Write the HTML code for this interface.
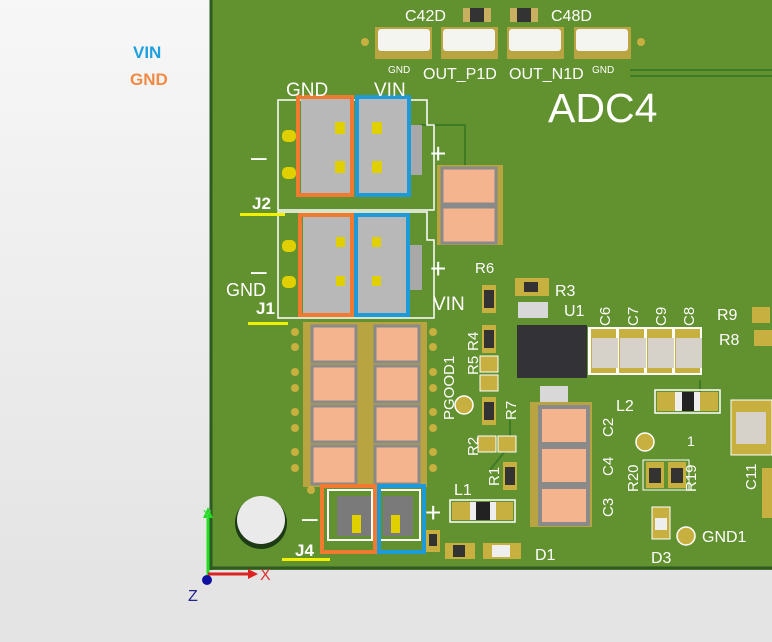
<!DOCTYPE html>
<html><head><style>
html,body{margin:0;padding:0}
body{width:772px;height:642px;overflow:hidden;background:linear-gradient(#f7f7f7,#e2e2e2);font-family:"Liberation Sans",sans-serif}
svg{position:absolute;left:0;top:0}
</style></head><body>
<svg width="772" height="642" viewBox="0 0 772 642" xmlns="http://www.w3.org/2000/svg" font-family="Liberation Sans, sans-serif">
<rect x="0" y="570" width="772" height="72" fill="#e4e4e4"/>
<rect x="210" y="0" width="562" height="570" fill="#62912f"/>
<line x1="211" y1="0" x2="211" y2="570" stroke="#2c5a22" stroke-width="3"/>
<line x1="210" y1="568" x2="772" y2="568" stroke="#2c5a22" stroke-width="3"/>
<text x="133" y="58" font-size="17" font-weight="bold" fill="#1ea0e0">VIN</text>
<text x="130" y="85" font-size="17" font-weight="bold" fill="#f08a44">GND</text>
<!-- traces -->
<g stroke="#3f7a25" stroke-width="2" fill="none">
<path d="M630 70H772M630 76H772"/>
<path d="M420 125H465V180"/>
<path d="M490 470l20 -25V420"/>
<path d="M560 480V440M700 380V405M540 400H560"/>
</g>
<!-- top connectors -->
<g>
<rect x="375" y="27" width="57" height="32" fill="#b8a440"/><rect x="378" y="29" width="52" height="22" rx="3" fill="#f4f4f0"/>
<rect x="441" y="27" width="57" height="32" fill="#b8a440"/><rect x="443" y="29" width="52" height="22" rx="3" fill="#f4f4f0"/>
<rect x="507" y="27" width="57" height="32" fill="#b8a440"/><rect x="509" y="29" width="52" height="22" rx="3" fill="#f4f4f0"/>
<rect x="574" y="27" width="57" height="32" fill="#b8a440"/><rect x="576" y="29" width="52" height="22" rx="3" fill="#f4f4f0"/>
<rect x="463" y="8" width="28" height="14" fill="#c8b060"/><rect x="470" y="8" width="14" height="14" fill="#333"/>
<rect x="510" y="8" width="28" height="14" fill="#c8b060"/><rect x="517" y="8" width="14" height="14" fill="#333"/>
<circle cx="365" cy="42" r="4" fill="#c8b040"/><circle cx="641" cy="42" r="4" fill="#c8b040"/>
</g>
<g fill="#fff">
<text x="405" y="21" font-size="16">C42D</text>
<text x="551" y="21" font-size="16">C48D</text>
<text x="388" y="73" font-size="10">GND</text>
<text x="423" y="79" font-size="16">OUT_P1D</text>
<text x="509" y="79" font-size="16">OUT_N1D</text>
<text x="592" y="73" font-size="10">GND</text>
<text x="548" y="122" font-size="41" font-weight="normal">ADC4</text>
</g>
<!-- J2 / J1 outlines -->
<g fill="none" stroke="#fff" stroke-width="1.5">
<path d="M278 100H427V125H434V210H278Z"/>
<path d="M278 212H427V240H434V318H278Z"/>
</g>
<g>
<rect x="282" y="130" width="14" height="12" rx="5" fill="#e0d000"/><rect x="282" y="167" width="14" height="12" rx="5" fill="#e0d000"/>
<rect x="282" y="240" width="14" height="12" rx="5" fill="#e0d000"/><rect x="282" y="276" width="14" height="12" rx="5" fill="#e0d000"/>
<rect x="301" y="97" width="50" height="96" fill="#b8b8b8"/><rect x="358" y="97" width="50" height="96" fill="#b8b8b8"/>
<rect x="303" y="215" width="48" height="98" fill="#b8b8b8"/><rect x="357" y="215" width="50" height="98" fill="#b8b8b8"/>
<rect x="410" y="125" width="12" height="50" fill="#a8a8a8"/><rect x="410" y="245" width="12" height="45" fill="#a8a8a8"/>
<g fill="#e0d000"><rect x="335" y="122" width="10" height="12"/><rect x="372" y="122" width="10" height="12"/><rect x="335" y="161" width="10" height="12"/><rect x="372" y="161" width="10" height="12"/>
<rect x="336" y="237" width="9" height="10"/><rect x="372" y="237" width="9" height="10"/><rect x="336" y="276" width="9" height="10"/><rect x="372" y="276" width="9" height="10"/></g>
<g fill="none" stroke-width="4"><rect x="298" y="97" width="54" height="98" stroke="#f07a30"/><rect x="357" y="97" width="52" height="98" stroke="#1e9ad8"/>
<rect x="300" y="215" width="52" height="100" stroke="#f07a30"/><rect x="356" y="215" width="52" height="100" stroke="#1e9ad8"/></g>
</g>
<g fill="#fff">
<text x="286" y="96" font-size="19">GND</text><text x="374" y="96" font-size="19">VIN</text>
<text x="251" y="166" font-size="28">–</text><text x="430" y="163" font-size="28">+</text>
<text x="251" y="280" font-size="28">–</text><text x="430" y="278" font-size="28">+</text>
<text x="252" y="209" font-size="17" font-weight="bold">J2</text>
<text x="226" y="296" font-size="18">GND</text>
<text x="256" y="314" font-size="17" font-weight="bold">J1</text>
<text x="433" y="310" font-size="19">VIN</text>
</g>
<rect x="240" y="213" width="45" height="3" fill="#f0f000"/>
<rect x="248" y="322" width="40" height="3" fill="#f0f000"/>
<rect x="282" y="558" width="48" height="3" fill="#f0f000"/>
<!-- caps near J2 -->
<rect x="437" y="165" width="66" height="80" fill="#b8a440"/>
<rect x="442" y="168" width="54" height="36" fill="#f4b48e" stroke="#8a8a8a" stroke-width="3"/>
<rect x="442" y="207" width="54" height="36" fill="#f4b48e" stroke="#8a8a8a" stroke-width="3"/>
<!-- capacitor array -->
<rect x="303" y="322" width="124" height="165" fill="#b8a440"/>
<g fill="#f4b48e" stroke="#8a8a8a" stroke-width="3">
<rect x="312" y="326" width="44" height="36"/><rect x="375" y="326" width="44" height="36"/>
<rect x="312" y="366" width="44" height="36"/><rect x="375" y="366" width="44" height="36"/>
<rect x="312" y="406" width="44" height="36"/><rect x="375" y="406" width="44" height="36"/>
<rect x="312" y="446" width="44" height="38"/><rect x="375" y="446" width="44" height="38"/>
</g>
<g fill="#c8b040">
<circle cx="295" cy="332" r="4"/><circle cx="295" cy="347" r="4"/><circle cx="295" cy="372" r="4"/><circle cx="295" cy="388" r="4"/><circle cx="295" cy="412" r="4"/><circle cx="295" cy="428" r="4"/><circle cx="295" cy="452" r="4"/><circle cx="295" cy="468" r="4"/>
<circle cx="433" cy="332" r="4"/><circle cx="433" cy="347" r="4"/><circle cx="433" cy="372" r="4"/><circle cx="433" cy="388" r="4"/><circle cx="433" cy="412" r="4"/><circle cx="433" cy="428" r="4"/><circle cx="433" cy="452" r="4"/><circle cx="433" cy="468" r="4"/>
<circle cx="311" cy="490" r="4"/>
</g>
<!-- hole -->
<circle cx="261" cy="523" r="26" fill="#1c3a14"/>
<circle cx="261" cy="520" r="24" fill="#eaeaea"/>
<!-- J4 -->
<rect x="328" y="490" width="44" height="50" fill="none" stroke="#fff" stroke-width="2"/>
<rect x="380" y="490" width="40" height="50" fill="none" stroke="#fff" stroke-width="2"/>
<rect x="337" y="496" width="34" height="40" fill="#7a7a7a"/><rect x="383" y="496" width="30" height="40" fill="#7a7a7a"/>
<rect x="352" y="515" width="9" height="18" fill="#e0d000"/><rect x="391" y="515" width="9" height="18" fill="#e0d000"/>
<rect x="322" y="486" width="53" height="66" fill="none" stroke="#f07a30" stroke-width="4"/>
<rect x="379" y="486" width="45" height="66" fill="none" stroke="#1e9ad8" stroke-width="4"/>
<g fill="#fff"><text x="302" y="527" font-size="28">–</text><text x="425" y="522" font-size="28">+</text>
<text x="295" y="556" font-size="17" font-weight="bold">J4</text>
<text x="454" y="495" font-size="16">L1</text><text x="535" y="560" font-size="16">D1</text>
<text x="475" y="273" font-size="15">R6</text><text x="555" y="296" font-size="16">R3</text>
<text x="564" y="316" font-size="16">U1</text>
<text x="717" y="320" font-size="16">R9</text><text x="719" y="345" font-size="16">R8</text>
<text x="616" y="411" font-size="16">L2</text><text x="687" y="446" font-size="14">1</text>
<text x="702" y="542" font-size="16">GND1</text><text x="651" y="563" font-size="16">D3</text>
</g>
<!-- L1 -->
<rect x="450" y="500" width="65" height="22" fill="none" stroke="#fff" stroke-width="1.5"/>
<rect x="452" y="502" width="61" height="18" fill="#c8b040"/><rect x="470" y="502" width="26" height="18" fill="#eee"/><rect x="476" y="502" width="14" height="18" fill="#222"/>
<!-- small parts bottom -->
<rect x="426" y="530" width="14" height="22" fill="#c8b040"/><rect x="429" y="534" width="8" height="12" fill="#333"/>
<rect x="445" y="543" width="30" height="16" fill="#c8b040"/><rect x="453" y="545" width="12" height="12" fill="#333"/>
<rect x="483" y="543" width="38" height="16" fill="#c8b040"/><rect x="492" y="545" width="18" height="12" fill="#eee"/>
<!-- resistor column -->
<g>
<rect x="482" y="285" width="14" height="28" fill="#c8b040"/><rect x="484" y="290" width="10" height="18" fill="#333"/>
<rect x="482" y="325" width="14" height="28" fill="#c8b040"/><rect x="484" y="330" width="10" height="18" fill="#333"/>
<rect x="480" y="356" width="18" height="16" fill="#c8b040" stroke="#fff"/><rect x="480" y="375" width="18" height="16" fill="#c8b040" stroke="#fff"/>
<rect x="482" y="397" width="14" height="28" fill="#c8b040"/><rect x="484" y="402" width="10" height="18" fill="#333"/>
<rect x="478" y="436" width="18" height="16" fill="#c8b040" stroke="#fff"/><rect x="498" y="436" width="18" height="16" fill="#c8b040" stroke="#fff"/>
<rect x="503" y="462" width="14" height="28" fill="#c8b040"/><rect x="505" y="467" width="10" height="18" fill="#333"/>
<rect x="515" y="278" width="34" height="18" fill="#c8b040"/><rect x="524" y="282" width="14" height="10" fill="#333"/>
<rect x="518" y="302" width="30" height="16" fill="#d8d8d8"/>
</g>
<circle cx="464" cy="405" r="9" fill="#c8b040" stroke="#fff" stroke-width="1.5"/>
<g fill="#fff" font-size="15">
<text transform="translate(478,351) rotate(-90)">R4</text>
<text transform="translate(478,375) rotate(-90)">R5</text>
<text transform="translate(454,420) rotate(-90)">PGOOD1</text>
<text transform="translate(516,420) rotate(-90)">R7</text>
<text transform="translate(478,456) rotate(-90)">R2</text>
<text transform="translate(499,486) rotate(-90)">R1</text>
<text transform="translate(610,326) rotate(-90)">C6</text>
<text transform="translate(638,326) rotate(-90)">C7</text>
<text transform="translate(666,326) rotate(-90)">C9</text>
<text transform="translate(694,326) rotate(-90)">C8</text>
<text transform="translate(613,437) rotate(-90)">C2</text>
<text transform="translate(613,476) rotate(-90)">C4</text>
<text transform="translate(613,517) rotate(-90)">C3</text>
<text transform="translate(638,492) rotate(-90)">R20</text>
<text transform="translate(696,492) rotate(-90)">R19</text>
<text transform="translate(756,490) rotate(-90)">C11</text>
</g>
<!-- U1 -->
<rect x="517" y="325" width="70" height="53" fill="#333337"/>
<!-- C6-C8 -->
<rect x="588" y="327" width="114" height="48" fill="#fff"/>
<g><rect x="591" y="329" width="25" height="44" fill="#c8b040"/><rect x="619" y="329" width="25" height="44" fill="#c8b040"/><rect x="647" y="329" width="25" height="44" fill="#c8b040"/><rect x="675" y="329" width="25" height="44" fill="#c8b040"/>
<rect x="592" y="338" width="26" height="30" fill="#d6d2ca"/><rect x="620" y="338" width="26" height="30" fill="#d6d2ca"/><rect x="648" y="338" width="26" height="30" fill="#d6d2ca"/><rect x="676" y="338" width="26" height="30" fill="#d6d2ca"/></g>
<!-- C2 C4 C3 -->
<rect x="530" y="402" width="62" height="125" fill="#b8a440"/>
<g fill="#f4b48e" stroke="#8a8a8a" stroke-width="4"><rect x="540" y="407" width="48" height="37"/><rect x="540" y="447" width="48" height="37"/><rect x="540" y="487" width="48" height="37"/></g>
<rect x="540" y="386" width="28" height="16" fill="#d8d8d8"/>
<!-- L2 -->
<rect x="655" y="390" width="65" height="23" fill="none" stroke="#fff" stroke-width="1.5"/>
<rect x="657" y="392" width="61" height="19" fill="#c8b040"/><rect x="675" y="392" width="25" height="19" fill="#eee"/><rect x="682" y="392" width="12" height="19" fill="#222"/>
<circle cx="645" cy="442" r="9" fill="#c8b040" stroke="#fff" stroke-width="1.5"/>
<rect x="643" y="460" width="46" height="30" fill="none" stroke="#fff"/>
<rect x="646" y="462" width="18" height="26" fill="#c8b040"/><rect x="649" y="468" width="12" height="15" fill="#333"/>
<rect x="668" y="462" width="18" height="26" fill="#c8b040"/><rect x="671" y="468" width="12" height="15" fill="#333"/>
<rect x="652" y="507" width="18" height="32" fill="#c8b040" stroke="#fff"/><rect x="655" y="518" width="12" height="12" fill="#eee"/>
<circle cx="686" cy="536" r="9" fill="#c8b040" stroke="#fff" stroke-width="1.5"/>
<!-- right edge parts -->
<rect x="731" y="400" width="41" height="55" fill="#c8b040" stroke="#fff"/><rect x="736" y="412" width="30" height="32" fill="#d6d2ca"/>
<rect x="752" y="307" width="18" height="16" fill="#c8b040"/><rect x="754" y="330" width="18" height="16" fill="#c8b040"/>
<rect x="762" y="468" width="10" height="50" fill="#c8b040"/>
<!-- axes -->
<line x1="208" y1="580" x2="208" y2="516" stroke="#22dd22" stroke-width="3"/>
<polygon points="203,518 208,507 213,518" fill="#22dd22"/>
<line x1="208" y1="574" x2="250" y2="574" stroke="#dd2222" stroke-width="3"/>
<polygon points="248,569 258,574 248,579" fill="#dd2222"/>
<circle cx="207" cy="580" r="5" fill="#1010a0"/>
<text x="203" y="519" font-size="13" fill="#44dd44">Y</text>
<text x="260" y="580" font-size="16" fill="#dd3333">X</text>
<text x="188" y="601" font-size="16" fill="#222288">Z</text>
</svg>
</body></html>
